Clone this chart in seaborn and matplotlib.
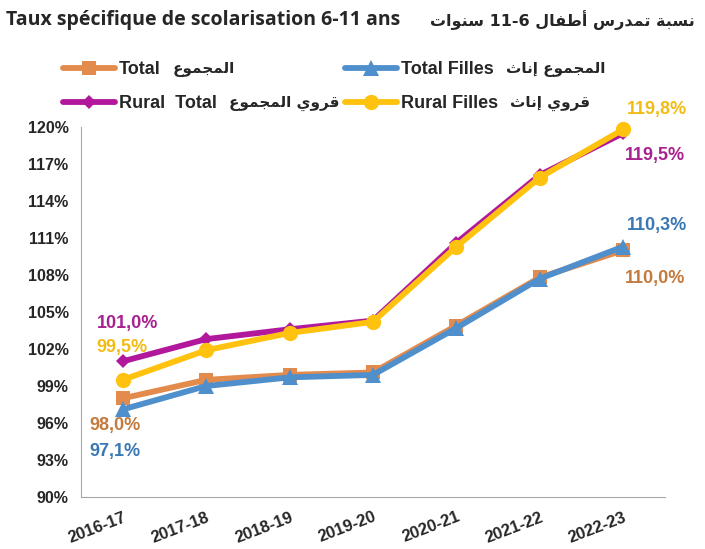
import matplotlib
matplotlib.use('Agg')
import matplotlib.pyplot as plt
import seaborn as sns

# Data
years = ['2016-17', '2017-18', '2018-19', '2019-20', '2020-21', '2021-22', '2022-23']
total = [98.0, 99.5, 99.9, 100.1, 103.9, 107.8, 110.0]
total_filles = [97.1, 99.0, 99.7, 99.9, 103.7, 107.7, 110.3]
rural_total = [101.0, 102.8, 103.6, 104.3, 110.6, 116.1, 119.5]
rural_filles = [99.5, 101.9, 103.3, 104.2, 110.3, 115.9, 119.8]
y_ticks = [90, 93, 96, 99, 102, 105, 108, 111, 114, 117, 120]

title_fr = 'Taux spécifique de scolarisation 6-11 ans'
title_ar = 'نسبة تمدرس أطفال 11-6 سنوات'
names = ['Total', 'Rural Total', 'Total Filles', 'Rural Filles']
legend_fr = ['Total', 'Rural  Total', 'Total Filles', 'Rural Filles']
names_ar = ['المجموع', 'قروي المجموع', 'المجموع إناث', 'قروي إناث']

# Arabic presentation forms (isolated, final, initial, medial)
FORMS = {
    'ا': '\uFE8D\uFE8E', 'أ': '\uFE83\uFE84', 'إ': '\uFE87\uFE88',
    'ب': '\uFE8F\uFE90\uFE91\uFE92', 'ة': '\uFE93\uFE94',
    'ت': '\uFE95\uFE96\uFE97\uFE98', 'ث': '\uFE99\uFE9A\uFE9B\uFE9C',
    'ج': '\uFE9D\uFE9E\uFE9F\uFEA0', 'د': '\uFEA9\uFEAA', 'ر': '\uFEAD\uFEAE',
    'س': '\uFEB1\uFEB2\uFEB3\uFEB4', 'ط': '\uFEC1\uFEC2\uFEC3\uFEC4',
    'ع': '\uFEC9\uFECA\uFECB\uFECC', 'ف': '\uFED1\uFED2\uFED3\uFED4',
    'ق': '\uFED5\uFED6\uFED7\uFED8', 'ل': '\uFEDD\uFEDE\uFEDF\uFEE0',
    'م': '\uFEE1\uFEE2\uFEE3\uFEE4', 'ن': '\uFEE5\uFEE6\uFEE7\uFEE8',
    'و': '\uFEED\uFEEE', 'ي': '\uFEF1\uFEF2\uFEF3\uFEF4',
}


def shape_ar(text):
    # matplotlib has no shaping / bidi, so do it by hand
    out = []
    for word in text.split(' '):
        if not any(c in FORMS for c in word):
            out.append(word)
            continue
        res = ''
        for i, c in enumerate(word):
            prev = word[i - 1] if i > 0 else None
            nxt = word[i + 1] if i < len(word) - 1 else None
            jp = prev in FORMS and len(FORMS[prev]) == 4
            jn = len(FORMS[c]) == 4 and nxt in FORMS
            res += FORMS[c][(1 if jp else 0) + (2 if jn else 0)]
        out.append(res[::-1])
    return ' '.join(out[::-1])


sns.set_style('white')
plt.rcParams['font.family'] = ['Liberation Sans', 'DejaVu Sans']

colors = {'Total': '#E38B4C', 'Total Filles': '#4F8FCC',
          'Rural Total': '#B2189C', 'Rural Filles': '#FFC20E'}
markers = {'Total': 's', 'Total Filles': '^', 'Rural Total': 'D', 'Rural Filles': 'o'}
msizes = {'Total': 10, 'Total Filles': 12, 'Rural Total': 7, 'Rural Filles': 11}
values = {'Total': total, 'Total Filles': total_filles,
          'Rural Total': rural_total, 'Rural Filles': rural_filles}

fig = plt.figure(figsize=(7.05, 5.49), dpi=100)
ax = fig.add_axes([0.115, 0.0947, 0.828, 0.674])

for n in names:
    c = colors[n]
    sns.lineplot(x=years, y=values[n], ax=ax, color=c, marker=markers[n],
                 markersize=msizes[n], linewidth=4.2, mec=c, mew=0, sort=False,
                 clip_on=False)

ax.set_xlim(-0.5, 6.5)
ax.set_ylim(90, 120)
ax.set_yticks(y_ticks)
ax.set_yticklabels([f'{t}%' for t in y_ticks], fontsize=11.5, fontweight='bold')
ax.set_xticks(range(len(years)))
ax.set_xticklabels(years, rotation=21, ha='right', rotation_mode='anchor',
                   fontsize=12, fontweight='bold')
ax.set_xticks([i - 0.5 for i in range(len(years) + 1)], minor=True)
ax.tick_params(axis='x', which='major', length=0, pad=9)
ax.tick_params(axis='x', which='minor', length=5, color='#A6A6A6', width=1)
ax.tick_params(axis='y', length=4, color='#A6A6A6', width=1, pad=5)
for s in ['top', 'right']:
    ax.spines[s].set_visible(False)
for s in ['left', 'bottom']:
    ax.spines[s].set_color('#A6A6A6')
ax.set_xlabel('')
ax.set_ylabel('')

# data labels at both ends
lab = [(0, 101.0, '101,0%', '#A8228F', 5, 38), (0, 99.5, '99,5%', '#F2BC14', -1, 32),
       (0, 98.0, '98,0%', '#C47A3C', -8, -27), (0, 97.1, '97,1%', '#3A78B5', -8, -42),
       (6, 119.8, '119,8%', '#F2BC14', 34, 20), (6, 119.5, '119,5%', '#A8228F', 32, -22),
       (6, 110.3, '110,3%', '#3A78B5', 34, 21), (6, 110.0, '110,0%', '#C47A3C', 32, -28)]
for x, y, t, c, dx, dy in lab:
    ax.annotate(t, xy=(x, y), xytext=(dx, dy), textcoords='offset pixels',
                ha='center', va='center', color=c, fontsize=13, fontweight='bold')

# legend: latin part in the legend, arabic part placed right after it
leg = fig.legend(ax.lines[:4], legend_fr, loc='upper left',
                 bbox_to_anchor=(0.089, 0.889), ncol=2, frameon=False,
                 handlelength=2.9, handletextpad=0.2, columnspacing=7.1,
                 labelspacing=0.94, borderpad=0, borderaxespad=0,
                 prop={'weight': 'bold', 'size': 13})
fig.canvas.draw()
renderer = fig.canvas.get_renderer()
W, H = fig.bbox.width, fig.bbox.height
for t, a in zip(leg.get_texts(), names_ar):
    bb = t.get_window_extent(renderer)
    fig.text((bb.x1 + 12) / W, (bb.y0 + bb.y1) / 2 / H, shape_ar(a),
             ha='left', va='center', fontsize=11, fontweight='bold',
             family=['DejaVu Sans'])

# title
fig.text(0.008, 0.963, title_fr, ha='left', va='center', fontsize=14,
         fontweight='bold', family=['Open Sans', 'DejaVu Sans'])
fig.text(0.985, 0.963, shape_ar(title_ar), ha='right', va='center', fontsize=11.5,
         fontweight='bold', family=['DejaVu Sans'])

fig.savefig('out.png', dpi=100)
